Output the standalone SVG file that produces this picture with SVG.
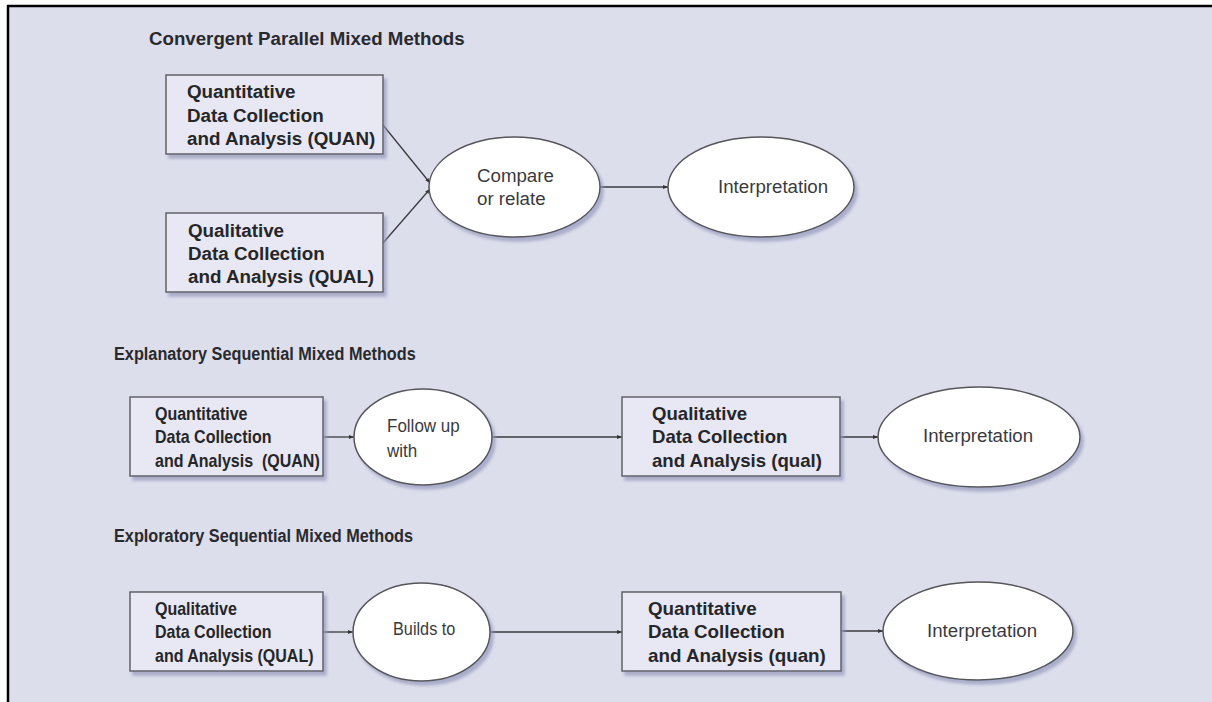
<svg xmlns="http://www.w3.org/2000/svg" width="1212" height="702" viewBox="0 0 1212 702">
<defs>
<filter id="sh" x="-10%" y="-10%" width="130%" height="140%">
<feDropShadow dx="3" dy="4" stdDeviation="1.8" flood-color="#9599bb" flood-opacity="0.7"/>
</filter>
<marker id="ah" viewBox="0 0 10 10" refX="10" refY="5" markerWidth="5" markerHeight="5" orient="auto" markerUnits="userSpaceOnUse">
<path d="M0,1 L10,5 L0,9 Z" fill="#333"/>
</marker>
<style>
.title{font-family:"Liberation Sans",Arial,sans-serif;font-weight:bold;font-size:18.7px;fill:#2a2a2e}
.box{fill:#e7e8f3;stroke:#626268;stroke-width:1.5}
.ell{fill:#ffffff;stroke:#55555a;stroke-width:1.5}
.bt{font-family:"Liberation Sans",Arial,sans-serif;font-weight:bold;font-size:18px;fill:#262629}
.et{font-family:"Liberation Sans",Arial,sans-serif;font-size:18.7px;fill:#3a3a3e}
.conn{fill:none;stroke:#3a3a40;stroke-width:1.3;marker-end:url(#ah)}
</style>
</defs>
<rect x="0" y="0" width="1212" height="702" fill="#ffffff"/>
<rect x="8" y="6" width="1204" height="696" fill="#dcdeec"/>
<line x1="7" y1="6" x2="1212" y2="6" stroke="#000" stroke-width="2.5"/>
<line x1="8" y1="5" x2="8" y2="702" stroke="#000" stroke-width="2.5"/>

<text class="title" x="149" y="45">Convergent Parallel Mixed Methods</text>
<text class="title" transform="translate(114,0) scale(0.87,1)" x="0" y="360">Explanatory Sequential Mixed Methods</text>
<text class="title" transform="translate(114,0) scale(0.87,1)" x="0" y="542">Exploratory Sequential Mixed Methods</text>

<g id="connectors">
<line class="conn" x1="383" y1="125" x2="430" y2="183"/>
<line class="conn" x1="383" y1="243" x2="430" y2="189"/>
<line class="conn" x1="600" y1="187" x2="668" y2="187"/>
<line class="conn" x1="323" y1="437" x2="354" y2="437"/>
<line class="conn" x1="492" y1="437" x2="622" y2="437"/>
<line class="conn" x1="840" y1="437" x2="878" y2="437"/>
<line class="conn" x1="323" y1="632" x2="353" y2="632"/>
<line class="conn" x1="490" y1="632" x2="622" y2="632"/>
<line class="conn" x1="841" y1="631" x2="883" y2="631"/>
</g>

<g id="quan1">
<rect class="box" x="166" y="75" width="217" height="79" filter="url(#sh)"/>
<g transform="translate(187,0) scale(1.044,1)">
<text class="bt" x="0" y="98">Quantitative</text>
<text class="bt" x="0" y="122">Data Collection</text>
<text class="bt" x="0" y="145">and Analysis (QUAN)</text>
</g>
</g>
<g id="qual1">
<rect class="box" x="166" y="213" width="217" height="79" filter="url(#sh)"/>
<g transform="translate(188,0) scale(1.044,1)">
<text class="bt" x="0" y="237">Qualitative</text>
<text class="bt" x="0" y="260">Data Collection</text>
<text class="bt" x="0" y="283">and Analysis (QUAL)</text>
</g>
</g>
<g id="compare">
<ellipse class="ell" cx="514.5" cy="187" rx="85.5" ry="50" filter="url(#sh)"/>
<text class="et" x="477" y="182">Compare</text>
<text class="et" x="477" y="205">or relate</text>
</g>
<g id="interp1">
<ellipse class="ell" cx="761" cy="187" rx="93" ry="50" filter="url(#sh)"/>
<text class="et" x="718" y="193">Interpretation</text>
</g>

<g id="quan2">
<rect class="box" x="130" y="397" width="193" height="79" filter="url(#sh)"/>
<g transform="translate(155,0) scale(0.89,1)">
<text class="bt" x="0" y="420">Quantitative</text>
<text class="bt" x="0" y="443">Data Collection</text>
<text class="bt" x="0" y="467" xml:space="preserve">and Analysis  (QUAN)</text>
</g>
</g>
<g id="followup">
<ellipse class="ell" cx="423" cy="437" rx="69" ry="48" filter="url(#sh)"/>
<g transform="translate(387,0) scale(0.91,1)">
<text class="et" x="0" y="432">Follow up</text>
<text class="et" x="0" y="457">with</text>
</g>
</g>
<g id="qual2">
<rect class="box" x="622" y="397" width="218" height="79" filter="url(#sh)"/>
<g transform="translate(652,0) scale(1.035,1)">
<text class="bt" x="0" y="420">Qualitative</text>
<text class="bt" x="0" y="443">Data Collection</text>
<text class="bt" x="0" y="467">and Analysis (qual)</text>
</g>
</g>
<g id="interp2">
<ellipse class="ell" cx="979" cy="437" rx="101" ry="50" filter="url(#sh)"/>
<text class="et" x="923" y="442">Interpretation</text>
</g>

<g id="qual3">
<rect class="box" x="130" y="592" width="193" height="79" filter="url(#sh)"/>
<g transform="translate(155,0) scale(0.89,1)">
<text class="bt" x="0" y="615">Qualitative</text>
<text class="bt" x="0" y="638">Data Collection</text>
<text class="bt" x="0" y="662">and Analysis (QUAL)</text>
</g>
</g>
<g id="builds">
<ellipse class="ell" cx="421.5" cy="632" rx="68.5" ry="49" filter="url(#sh)"/>
<text class="et" transform="translate(393,0) scale(0.87,1)" x="0" y="635">Builds to</text>
</g>
<g id="quan3">
<rect class="box" x="622" y="592" width="219" height="79" filter="url(#sh)"/>
<g transform="translate(648,0) scale(1.045,1)">
<text class="bt" x="0" y="615">Quantitative</text>
<text class="bt" x="0" y="638">Data Collection</text>
<text class="bt" x="0" y="662">and Analysis (quan)</text>
</g>
</g>
<g id="interp3">
<ellipse class="ell" cx="978" cy="631" rx="95" ry="49" filter="url(#sh)"/>
<text class="et" x="927" y="637">Interpretation</text>
</g>
</svg>
